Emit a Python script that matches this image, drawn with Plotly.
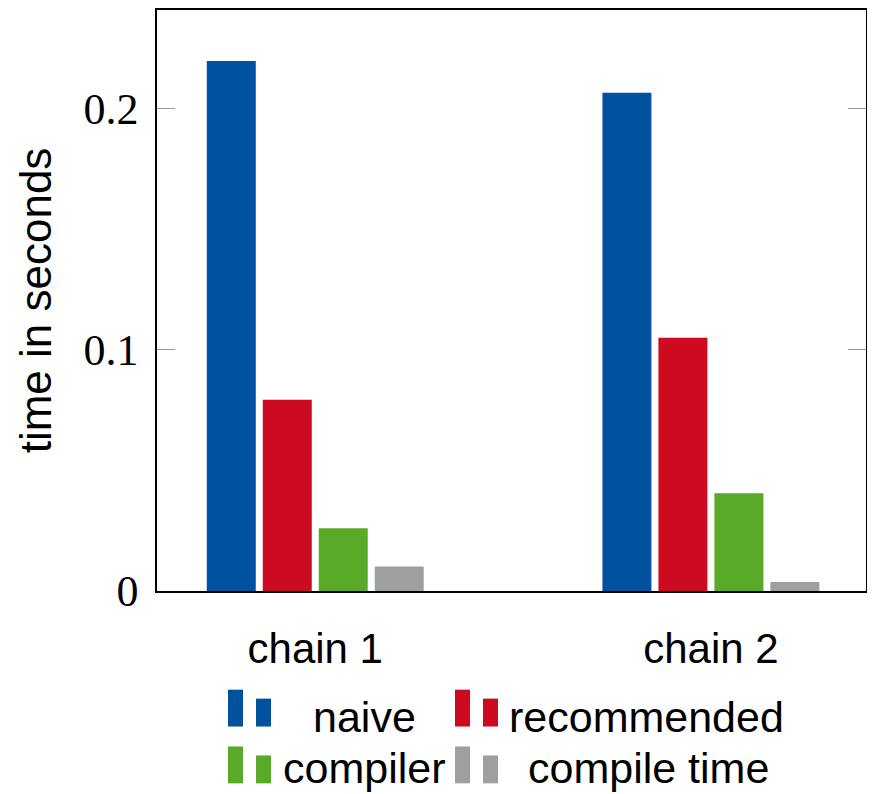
import plotly.graph_objects as go

categories = ["chain 1", "chain 2"]
series_names = ["naive", "recommended", "compiler", "compile time"]
naive = [0.2198, 0.2066]
recommended = [0.0793, 0.105]
compiler = [0.026, 0.0405]
compile_time = [0.0102, 0.0037]
colors = ["#00529F", "#CC0A20", "#5AAA2A", "#9E9FA1"]
y_tickvals = [0, 0.1, 0.2]
y_ticktext = ["0", "0.1", "0.2"]

# page offset from default body margin
OFF = 8
W, H = 875 - OFF, 794 - OFF
# plot area in page pixels: x 157..866, y 8..591
PL, PR, PT, PB = 157, 866, 8, 591
L, T = PL - OFF, PT - OFF
R = 875 - PR
B = 794 - PB
PW, PH = PR - PL, PB - PT

SANS = "Liberation Sans, Arial, sans-serif"

fig = go.Figure()
for name, vals, col in zip(series_names, [naive, recommended, compiler, compile_time], colors):
    fig.add_trace(go.Bar(x=categories, y=vals, name=name, marker_color=col,
                         marker_line_width=0, showlegend=False))

def px(x):
    return (x - PL) / PW

def py(y):
    return (PB - y) / PH

# manual legend (two-bar icons + labels), page pixel positions
legend_items = [
    (0, 228, 690, 311, 717),
    (1, 455, 690, 507, 717),
    (2, 228, 747, 281, 769),
    (3, 455, 747, 526, 769),
]
shapes = []
annotations = []
for idx, ix, iy, tx, ty in legend_items:
    col = colors[idx]
    shapes.append(dict(type="rect", xref="paper", yref="paper",
                       x0=px(ix), x1=px(ix + 15), y0=py(iy + 37), y1=py(iy),
                       fillcolor=col, line_width=0))
    shapes.append(dict(type="rect", xref="paper", yref="paper",
                       x0=px(ix + 28), x1=px(ix + 43), y0=py(iy + 37), y1=py(iy + 9),
                       fillcolor=col, line_width=0))
    annotations.append(dict(xref="paper", yref="paper", x=px(tx), y=py(ty),
                            xanchor="left", yanchor="middle", showarrow=False,
                            text=series_names[idx],
                            font=dict(family=SANS, size=43, color="black")))

fig.update_layout(
    width=W, height=H,
    margin=dict(l=L, r=R, t=T, b=B, pad=0),
    paper_bgcolor="white", plot_bgcolor="white",
    barmode="group", bargap=0.434, bargroupgap=0.125,
    shapes=shapes, annotations=annotations,
    showlegend=False,
)
fig.update_xaxes(
    range=[-0.4, 1.392], showline=True, linecolor="black", linewidth=1.5, mirror=True,
    ticks="", showgrid=False,
    tickfont=dict(family=SANS, size=42, color="black"),
    ticklabelstandoff=20,
)
fig.update_yaxes(
    range=[0, 0.2409], showline=True, linecolor="black", linewidth=1.5, mirror="ticks",
    ticks="inside", ticklen=18, tickcolor="#999999", tickwidth=1.2,
    tickvals=y_tickvals, ticktext=y_ticktext, showgrid=False, zeroline=False,
    tickfont=dict(family="Liberation Serif, serif", size=44, color="black"),
    ticklabelstandoff=8,
    title=dict(text="time in seconds", standoff=18,
               font=dict(family=SANS, size=44, color="black")),
)

fig.write_html("out.html")
